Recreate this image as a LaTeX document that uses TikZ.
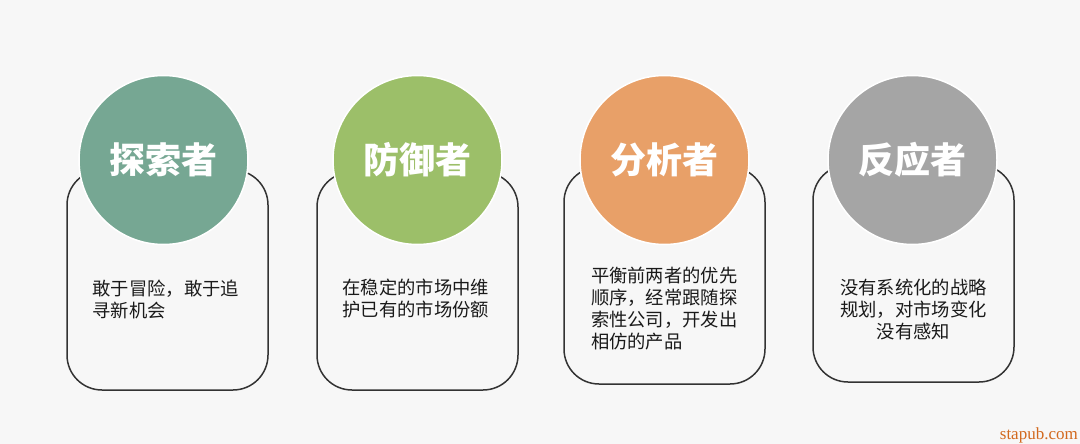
\documentclass[tikz,border=0pt]{standalone}
\usepackage{fontspec}
\newfontfamily\cjk{Noto Sans CJK SC}
\newfontfamily\wmfont{Liberation Serif}
\definecolor{bgc}{HTML}{F7F7F7}
\definecolor{cline}{HTML}{333333}
\definecolor{cgreen}{HTML}{76A793}
\definecolor{clgreen}{HTML}{9CBF69}
\definecolor{corange}{HTML}{E8A068}
\definecolor{cgray}{HTML}{A5A5A5}
\definecolor{ctext}{HTML}{1A1A1A}
\definecolor{cwm}{HTML}{D2691E}
\tikzset{
  card/.style={draw=cline, line width=1.5pt, rounded corners=35pt, minimum width=201pt, inner sep=0pt},
  badge/.style={circle, draw=white, line width=1.5pt, minimum size=169pt, inner sep=0pt, text=white, font=\cjk\bfseries\fontsize{36}{40}\selectfont},
  desc/.style={text=ctext, text width=150pt, inner sep=0pt, font=\cjk\fontsize{18.3}{22}\selectfont},
}
\begin{document}
\begin{tikzpicture}[x=1pt,y=-1pt]
\fill[bgc] (0,0) rectangle (1080,444);
\useasboundingbox (0,0) rectangle (1080,444);
% cards
\node[card, minimum height=220pt] (card1) at (167.5,280) {};
\node[card, minimum height=218pt] (card2) at (417.5,281) {};
\node[card, minimum height=217pt] (card3) at (664.5,275.5) {};
\node[card, minimum height=217pt] (card4) at (913.5,273.5) {};
% circles
\node[badge, fill=cgreen] (t1) at (163.5,160) {探索者};
\node[badge, fill=clgreen] (t2) at (417.5,160) {防御者};
\node[badge, fill=corange] (t3) at (664.5,160) {分析者};
\node[badge, fill=cgray] (t4) at (912.5,160) {反应者};
% descriptions
\node[desc, align=left] (d1) at (167.5,299) {敢于冒险，敢于追\\寻新机会};
\node[desc, align=left] (d2) at (417.5,299) {在稳定的市场中维\\护已有的市场份额};
\node[desc, align=left] (d3) at (666,308.5) {平衡前两者的优先\\顺序，经常跟随探\\索性公司，开发出\\相仿的产品};
\node[desc, align=center] (d4) at (913.5,310) {没有系统化的战略\\规划，对市场变化\\没有感知};
% watermark
\node[text=cwm, font=\wmfont\fontsize{17}{20}\selectfont, anchor=base east, inner sep=0pt] (wm) at (1078,439) {stapub.com};
\end{tikzpicture}
\end{document}
